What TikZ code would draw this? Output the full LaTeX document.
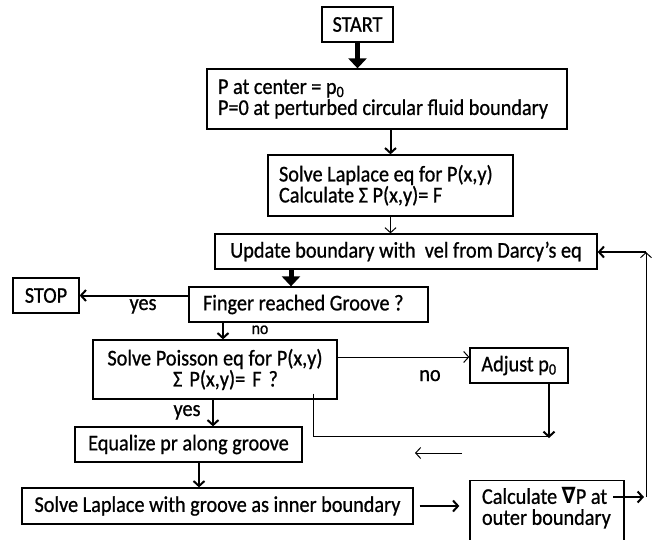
\documentclass[tikz,border=0pt]{standalone}
\usepackage{fontspec}
\setmainfont{Carlito}[FakeStretch=0.9,FakeBold=0.8]
\newfontfamily\symfont{DejaVu Sans}[FakeStretch=0.9]
\usetikzlibrary{arrows.meta}

\tikzset{
  box/.style={draw, line width=1.3pt, inner xsep=11pt, inner ysep=0pt,
    font=\fontsize{22.5}{21}\selectfont,
    execute at begin node={\spaceskip=0pt\xspaceskip=0pt\hyphenpenalty=10000}},
  bigarr/.style={line width=5pt, -{Triangle[length=10pt,width=18pt]}},
  midarr/.style={line width=2pt, -{Straight Barb[length=5pt,width=11pt]}},
  thinarr/.style={line width=1pt, -{Straight Barb[length=5pt,width=11pt]}},
  lbl/.style={font=\fontsize{22.5}{21}\selectfont, inner sep=0pt, anchor=base}
}

\begin{document}
\begin{tikzpicture}[x=1pt,y=-1pt]
\useasboundingbox (0,0) rectangle (654,539);
\clip (0,0) rectangle (654,539);

% boxes
\node[box, inner xsep=0pt, minimum width=71pt, minimum height=35pt] (start) at (357.5,24.5) {START};
\node[box, text width=338pt, align=left, minimum height=60pt] (init) at (387,99)
  {P at center = p\textsubscript{0}\\P=0 at perturbed circular fluid boundary};
\node[box, text width=223pt, align=left, minimum height=61pt] (laplace) at (390.5,185.5)
  {Solve Laplace eq for P(x,y)\\Calculate Σ P(x,y)= F};
\node[box, inner xsep=0pt, minimum width=382pt, minimum height=35pt] (update) at (406,251.5)
  {Update boundary with \ vel from Darcy’s eq};
\node[box, inner xsep=14pt, text width=211pt, align=left, minimum height=35pt] (finger) at (308.5,304.5)
  {Finger reached Groove ?};
\node[box, inner xsep=0pt, minimum width=66pt, minimum height=35pt] (stop) at (46,295.5) {STOP};
\node[box, text width=222pt, align=center, minimum height=59pt] (poisson) at (215,369.5)
  {Solve Poisson eq for P(x,y)\\\ \ \ Σ P(x,y)= F ?};
\node[box, inner xsep=0pt, minimum width=98pt, minimum height=35pt] (adjust) at (519,365.5)
  {Adjust p\textsubscript{0}};
\node[box, inner xsep=0pt, minimum width=227pt, minimum height=35pt] (equal) at (188.5,444.5)
  {Equalize pr along groove};
\node[box, inner xsep=0pt, minimum width=391pt, minimum height=36pt] (solve) at (217.5,506)
  {Solve Laplace with groove as inner boundary};
\node[box, text width=130pt, inner xsep=12pt, inner ysep=7pt, align=left, anchor=north] (calc) at (547,480)
  {Calculate {\symfont\bfseries ∇}P at\\outer boundary\\\mbox{}};

% labels
\node[lbl] (yes1) at (143,310) {yes};
\node[lbl, font=\fontsize{17.5}{18}\selectfont] (no1) at (260,334) {no};
\node[lbl] (no2) at (430,381) {no};
\node[lbl] (yes2) at (187,416) {yes};

% main line
\draw[bigarr] (start.south) -- (init.north -| start.south);
\draw[midarr] (init.south -| laplace.north) -- (laplace.north);
\draw[thinarr] (laplace.south) -- (update.north -| laplace.south);
\coordinate (fingtop) at ([xshift=-17.5pt]finger.north);
\draw[bigarr] (update.south -| fingtop) -- (fingtop);
\draw[midarr] (finger.west |- stop.east) -- (stop.east);
\coordinate (poistop) at ([xshift=8pt]poisson.north);
\draw[midarr] (finger.south -| poistop) -- (poistop);
\coordinate (adjin) at ([yshift=8.5pt]adjust.west);
\draw[thinarr] (poisson.east |- adjin) -- (adjin);
\coordinate (eqtop) at ([xshift=24.5pt]equal.north);
\draw[midarr] (poisson.south -| eqtop) -- (eqtop);
\coordinate (eqbot) at ([xshift=10.5pt]equal.south);
\draw[midarr] (eqbot) -- (solve.north -| eqbot);

% p0 loop
\coordinate (adjout) at ([xshift=30pt]adjust.south);
\coordinate (merge) at (549,438);
\draw[midarr] (adjout) -- (merge);
\coordinate (poisout) at ([xshift=98pt,yshift=6pt]poisson.south);
\draw[line width=1pt] (poisout) |- ([yshift=2pt]merge);
\coordinate (backR) at (462,453);
\coordinate (backL) at (415,453);
\draw[thinarr] (backR) -- (backL);

% back to boundary update
\draw[midarr, shorten <=6pt, shorten >=10pt] (solve.east) -- (calc.west |- solve.east);
\coordinate (calcout) at (613,497);
\coordinate (loopB) at (646,497);
\coordinate (loopT) at (646,252);
\draw[midarr, shorten >=2pt] (calcout) -- (loopB);
\draw[thinarr] (loopB) -- (loopT);
\draw[midarr] (loopT) -- (update.east |- loopT);
\end{tikzpicture}
\end{document}
